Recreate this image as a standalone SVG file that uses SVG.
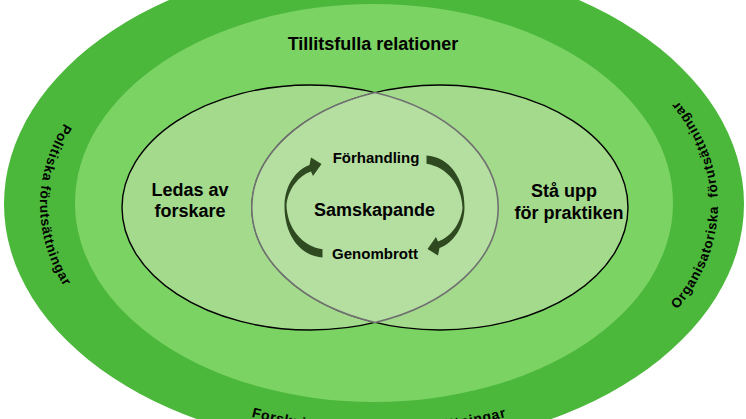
<svg xmlns="http://www.w3.org/2000/svg" width="746" height="419" viewBox="0 0 746 419">
<style>
  .lbl { font-family: "Liberation Sans", Arial, sans-serif; font-weight: bold; fill: #000; }
  .big { font-size: 18px; }
  .mid { font-size: 15px; }
  .ring { font-size: 13.5px; letter-spacing: 0.7px; }
  .inner { fill: #A3DA8C; stroke: #000; stroke-width: 1.4; }
  .arrow { fill: #2F4A20; }
</style>
<defs>
  <path id="pLeft" d="M 379 -15 A 339 220 0 0 0 40 205 A 339 220 0 0 0 379 425"/>
  <path id="pRight" d="M 379 425 A 339 220 0 0 0 718 205 A 339 220 0 0 0 379 -15"/>
  <path id="pBottom" d="M 40 213 A 339 220 0 0 0 379 433 A 339 220 0 0 0 718 213"/>
  <path id="arrowShape" d="M 322.5 249.3 L 322.5 257.5 C 300 256 284 235 284.5 205 C 285 185 296 170 309.5 165 L 311 157.5 L 321.5 164 L 313 176 L 311 171.5 C 298 176 288 190 286.5 205 C 287 228 302 246 322.5 249.3 Z"/>
</defs>

<g id="outer-ring">
  <ellipse cx="374" cy="204" rx="370" ry="245" fill="#4CB83B"/>
  <text class="lbl ring"><textPath href="#pLeft" startOffset="50%" text-anchor="middle">Politiska förutsättningar</textPath></text>
  <text class="lbl ring"><textPath href="#pRight" startOffset="50%" text-anchor="middle" xml:space="preserve">Organisatoriska  förutsättningar</textPath></text>
  <text class="lbl ring" style="font-size:14px"><textPath href="#pBottom" startOffset="50%" text-anchor="middle">Forskningsmässiga förutsättningar</textPath></text>
</g>

<g id="trust-ring">
  <ellipse cx="374" cy="203" rx="299" ry="199" fill="#7BD364"/>
  <text class="lbl big" x="373" y="50" text-anchor="middle">Tillitsfulla relationer</text>
</g>

<g id="researchers">
  <ellipse class="inner" cx="310" cy="207.5" rx="188" ry="122.5"/>
</g>
<g id="practice">
  <ellipse class="inner" cx="440" cy="207.5" rx="188" ry="122.5"/>
</g>
<g id="cocreation">
  <path d="M 375 92.5 A 188 122.5 0 0 1 375 322.5 A 188 122.5 0 0 1 375 92.5 Z" fill="#B4DFA0" stroke="#707070" stroke-width="1.6"/>
</g>

<g id="researchers-label">
  <text class="lbl big" x="190" y="196" text-anchor="middle">Ledas av</text>
  <text class="lbl big" x="190" y="217" text-anchor="middle">forskare</text>
</g>
<g id="practice-label">
  <text class="lbl big" x="564" y="197" text-anchor="middle">Stå upp</text>
  <text class="lbl big" x="569" y="219" text-anchor="middle">för praktiken</text>
</g>

<g id="cocreation-labels">
  <text class="lbl big" x="374.5" y="216" text-anchor="middle">Samskapande</text>
  <text class="lbl mid" x="376" y="163" text-anchor="middle">Förhandling</text>
  <text class="lbl mid" x="375" y="259" text-anchor="middle">Genombrott</text>
</g>

<g id="connectors">
  <use href="#arrowShape" class="arrow"/>
  <use href="#arrowShape" class="arrow" transform="rotate(180 374.5 206.5)"/>
</g>
</svg>
